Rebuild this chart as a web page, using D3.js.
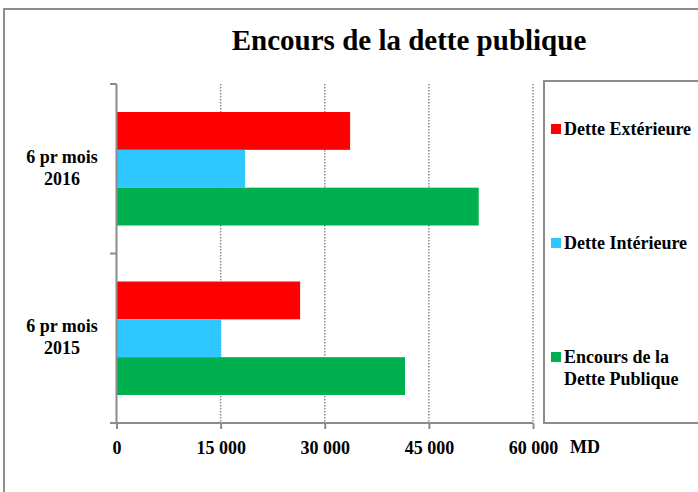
<!DOCTYPE html>
<html>
<head>
<meta charset="utf-8">
<script src="https://cdn.jsdelivr.net/npm/d3@7"></script>
<style>
	body { margin: 0; background: #fff; }
	svg text { font-family: "Liberation Serif", "Times New Roman", serif; font-weight: bold; fill: #000; }
</style>
</head>
<body>
<svg id="chart" width="698" height="492"></svg>
<script>
(function(d3) {
	'use strict';

	/** data */
	var categories = ['6 pr mois 2016', '6 pr mois 2015'];
	var categoryLines = [['6 pr mois', '2016'], ['6 pr mois', '2015']];
	var series = ['Dette Extérieure', 'Dette Intérieure', 'Encours de la Dette Publique'];
	var seriesLines = [['Dette Extérieure'], ['Dette Intérieure'], ['Encours de la', 'Dette Publique']];
	var seriesColors = ['#ff0000', '#2ec7ff', '#00b050'];
	var detteExterieure = [33650, 26450];
	var detteInterieure = [18520, 15060];
	var encoursTotal = [52180, 41560];
	var xTicks = [0, 15000, 30000, 45000, 60000];
	var xTickLabels = ['0', '15 000', '30 000', '45 000', '60 000'];
	var unitLabel = 'MD';
	var title = 'Encours de la dette publique';

	var values = [detteExterieure, detteInterieure, encoursTotal];
	var svg = d3.select('#chart');
	var axisColor = '#8c8c8c';

	/** outer frame */
	svg.append('path')
		.attr('d', 'M4,492 V9 H698')
		.attr('fill', 'none').attr('stroke', axisColor).attr('stroke-width', 2);

	/** title */
	svg.append('text')
		.attr('x', 409).attr('y', 50)
		.attr('text-anchor', 'middle')
		.style('font-size', '29px')
		.text(title);

	/** scales */
	var x = d3.scaleLinear().domain([0, 60000]).range([116.5, 533]);
	var y0 = d3.scaleBand().domain(categories).range([84, 423]).padding(0);
	var y1 = d3.scaleBand().domain(series)
		.range([28, y0.bandwidth() - 28]).padding(0);

	/** grid lines */
	svg.append('g').selectAll('line').data(xTicks.slice(1)).enter().append('line')
		.attr('x1', x).attr('x2', x)
		.attr('y1', 84).attr('y2', 423)
		.attr('stroke', '#8c8c8c').attr('stroke-width', 1.5)
		.attr('stroke-dasharray', '1.5,1.5');

	/** bars */
	var groups = svg.append('g').selectAll('g').data(categories).enter().append('g')
		.attr('transform', function(c) { return 'translate(0,' + y0(c) + ')'; });
	groups.selectAll('rect')
		.data(function(c, ci) {
			return series.map(function(s, si) {
				return { s: s, si: si, v: values[si][ci] };
			});
		})
		.enter().append('rect')
		.attr('x', x(0))
		.attr('y', function(d) { return y1(d.s); })
		.attr('width', function(d) { return x(d.v) - x(0); })
		.attr('height', y1.bandwidth())
		.attr('fill', function(d) { return seriesColors[d.si]; });

	/** x axis */
	var xAxis = svg.append('g').attr('transform', 'translate(0,423)')
		.call(d3.axisBottom(x).tickValues(xTicks).tickSize(6).tickSizeOuter(0)
			.tickFormat(function(d, i) { return xTickLabels[i]; }));
	xAxis.select('.domain').attr('stroke', axisColor).attr('stroke-width', 2)
		.attr('d', 'M110,0 H' + x(60000));
	xAxis.selectAll('.tick line').attr('stroke', axisColor).attr('stroke-width', 2);
	xAxis.selectAll('.tick text')
		.attr('y', 18)
		.style('font-size', '18px')
		.style('font-family', '"Liberation Serif", serif')
		.attr('fill', '#000');
	svg.append('text').attr('x', 570).attr('y', 453).style('font-size', '18px').text(unitLabel);

	/** y axis */
	var yAxis = svg.append('g').attr('transform', 'translate(' + x(0) + ',0)');
	yAxis.append('line')
		.attr('x1', 0).attr('x2', 0).attr('y1', 84).attr('y2', 423)
		.attr('stroke', axisColor).attr('stroke-width', 2);
	yAxis.selectAll('.ytick').data([84, 253.5, 423]).enter().append('line')
		.attr('x1', -6.5).attr('x2', 0)
		.attr('y1', function(d) { return d; }).attr('y2', function(d) { return d; })
		.attr('stroke', axisColor).attr('stroke-width', 2);

	var catLabels = svg.append('g').selectAll('text').data(categories).enter().append('text')
		.attr('text-anchor', 'middle')
		.style('font-size', '18px')
		.attr('transform', function(c) {
			return 'translate(62,' + (y0(c) + y0.bandwidth() / 2 - 6) + ')';
		});
	catLabels.selectAll('tspan')
		.data(function(c, i) { return categoryLines[i]; })
		.enter().append('tspan')
		.attr('x', 0)
		.attr('y', function(d, i) { return i * 22; })
		.text(function(d) { return d; });

	/** legend */
	svg.append('path')
		.attr('d', 'M698,81 H544 V423 H698')
		.attr('fill', 'none').attr('stroke', axisColor).attr('stroke-width', 2);
	var legendY = [129, 243, 357];
	var items = svg.append('g').selectAll('g').data(series).enter().append('g')
		.attr('transform', function(s, i) { return 'translate(551,' + legendY[i] + ')'; });
	items.append('rect')
		.attr('x', 0).attr('y', -5).attr('width', 10).attr('height', 10)
		.attr('fill', function(s, i) { return seriesColors[i]; });
	var legendText = items.append('text').style('font-size', '18px');
	legendText.selectAll('tspan')
		.data(function(s, i) { return seriesLines[i]; })
		.enter().append('tspan')
		.attr('x', 13)
		.attr('y', function(d, i) { return 6 + i * 22; })
		.text(function(d) { return d; });
})(d3);
</script>
</body>
</html>
